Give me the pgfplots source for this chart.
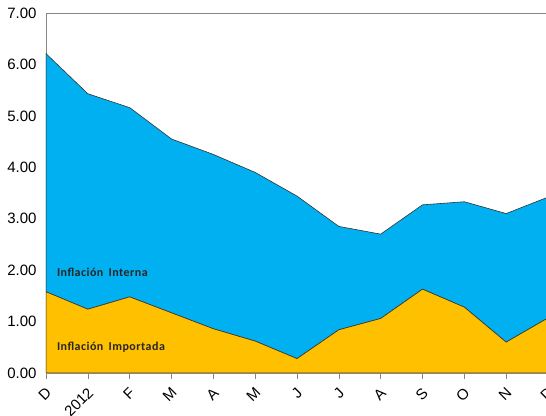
\documentclass[border=0pt]{standalone}
\usepackage{pgfplots}
\pgfplotsset{compat=1.18}
\usepackage{pgfplotstable}
\usepackage{fontspec}
\setmainfont{Liberation Sans}
\newfontfamily\carl[LetterSpace=4]{Carlito}
\definecolor{cblue}{HTML}{00B0F0}
\definecolor{corange}{HTML}{FFC000}
\definecolor{axgray}{HTML}{868686}
\pgfplotstableread{
x imp int
0 1.58 4.63
1 1.24 4.19
2 1.48 3.68
3 1.17 3.38
4 0.86 3.39
5 0.62 3.28
6 0.28 3.16
7 0.84 2.01
8 1.06 1.64
9 1.63 1.64
10 1.28 2.05
11 0.60 2.50
12 1.07 2.35
}\datatable
\begin{document}
\begin{tikzpicture}
\begin{axis}[
  scale only axis,
  width=502pt, height=360pt,
  xmin=0, xmax=12, ymin=0, ymax=7,
  axis x line=box, axis y line*=left,
  axis line style={axgray, line width=0.8pt},
  xtick={0,...,12},
  xticklabels={D,2012,F,M,A,M,J,J,A,S,O,N,D},
  xtick pos=bottom,
  x tick label style={yshift=-6pt, xshift=-1pt, rotate=45, anchor=north east, font=\fontsize{15}{15}\selectfont, inner sep=1pt},
  xtick style={axgray, line width=0.6pt},
  major tick length=6pt,
  tick align=outside,
  ytick={0,1,...,7},
  ytick style={draw=none},
  y tick label style={font=\fontsize{15}{15}\selectfont},
  yticklabel={\pgfmathprintnumber[fixed,fixed zerofill,precision=2]{\tick}},
  /pgf/number format/assume math mode=true,
  stack plots=y,
  clip=true,
]
\addplot[draw=black!80, line width=0.6pt, fill=corange] table[x=x,y=imp]{\datatable} \closedcycle;
\addplot[draw=black!80, line width=0.6pt, fill=cblue] table[x=x,y=int]{\datatable} \closedcycle;
\coordinate (lint) at (axis cs:0.18,1.96);
\coordinate (limp) at (axis cs:0.18,0.5);
\end{axis}
\node[anchor=west, font=\carl\bfseries\fontsize{12}{12}\selectfont, text=black!85] at (lint) {Inflación\, Interna};
\node[anchor=west, font=\carl\bfseries\fontsize{12}{12}\selectfont, text=black!85] at (limp) {Inflación\, Importada};
\pgfresetboundingbox
\path ([xshift=-46pt,yshift=13pt]current axis.north west) rectangle ([xshift=-2pt,yshift=-43pt]current axis.south east);
\end{tikzpicture}
\end{document}
